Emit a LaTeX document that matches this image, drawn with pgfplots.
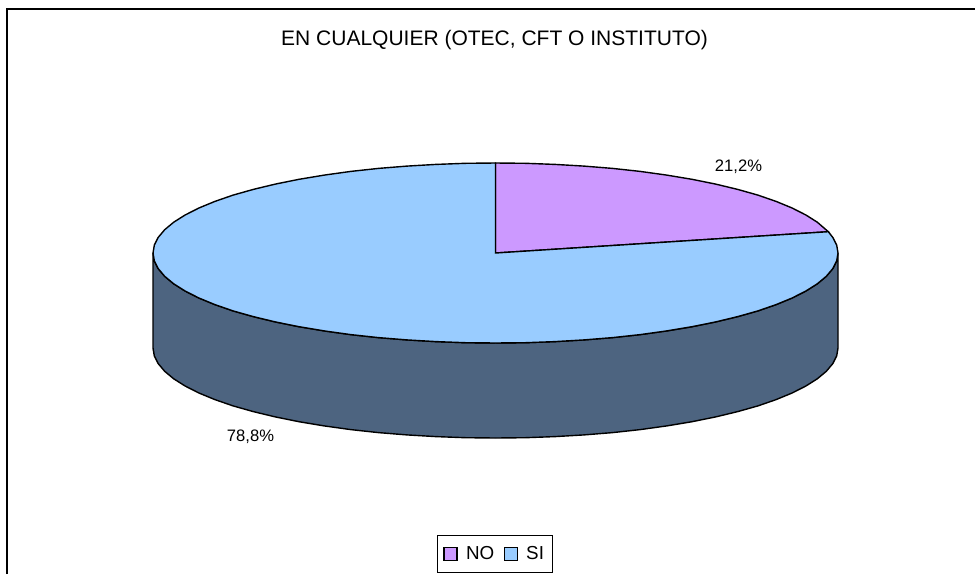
\documentclass[border=0pt]{standalone}
\usepackage{pgfplots}
\pgfplotsset{compat=1.18}
\usepackage{fontspec}
\setmainfont{Liberation Sans}
\definecolor{pieNo}{HTML}{CC99FF}
\definecolor{pieSi}{HTML}{99CCFF}
\definecolor{pieSide}{HTML}{4D6480}
\begin{document}
\begin{tikzpicture}
\begin{axis}[
    scale only axis,
    width=975pt,
    height=574pt,
    xmin=0, xmax=975,
    ymin=0, ymax=574,
    y dir=reverse,
    hide axis,
    legend style={
        at={(axis cs:494.5,554)}, anchor=center,
        draw=black, line width=0.9pt, inner xsep=3.5pt, inner ysep=10.5pt,
        font=\fontsize{18.8}{21}\selectfont,
        legend columns=2,
        /tikz/every even column/.append style={column sep=2pt},
        nodes={inner xsep=4.5pt, inner ysep=1pt},
    },
    legend image code/.code={
        \path[draw=none, fill=none] (-3.5pt,0pt) -- (17.5pt,0pt);
        \draw[#1] (0pt,-6.5pt) rectangle (13pt,6.5pt);
    },
]
% keep the whole canvas in the bounding box
\path (axis cs:0,0) rectangle (axis cs:975,574);
% chart frame, open on the right and bottom where the image is cut
\addplot[forget plot, black, line width=1.6pt] coordinates {(7,574) (7,9) (975,9)};
% side wall
\addplot[forget plot, fill=pieSide, draw=black, line width=1.4pt] coordinates {
    (153,253) (154.3,260.8) (158.2,268.6) (164.7,276.3) (173.7,283.8) (185.1,291)
    (198.9,298) (214.9,304.6) (233.1,310.9) (253.3,316.6) (275.3,321.9) (299,326.7)
    (324.2,330.9) (350.8,334.6) (378.4,337.6) (406.9,339.9) (436,341.6) (465.6,342.7)
    (495.5,343) (525.4,342.7) (555,341.6) (584.1,339.9) (612.6,337.6) (640.2,334.6)
    (666.8,330.9) (692,326.7) (715.7,321.9) (737.7,316.6) (757.9,310.9) (776.1,304.6)
    (792.1,298) (805.9,291) (817.3,283.8) (826.3,276.3) (832.8,268.6) (836.7,260.8)
    (838,253) (838,348)
    (836.7,355.8) (832.8,363.6) (826.3,371.3) (817.3,378.8) (805.9,386) (792.1,393)
    (776.1,399.6) (757.9,405.9) (737.7,411.6) (715.7,416.9) (692,421.7) (666.8,425.9)
    (640.2,429.6) (612.6,432.6) (584.1,434.9) (555,436.6) (525.4,437.7) (495.5,438)
    (465.6,437.7) (436,436.6) (406.9,434.9) (378.4,432.6) (350.8,429.6) (324.2,425.9)
    (299,421.7) (275.3,416.9) (253.3,411.6) (233.1,405.9) (214.9,399.6) (198.9,393)
    (185.1,386) (173.7,378.8) (164.7,371.3) (158.2,363.6) (154.3,355.8) (153,348)
} --cycle;
% NO 21.2
\addplot[fill=pieNo, draw=black, line width=1.4pt] coordinates {
    (495.5,253) (495.5,163) (525.4,163.3) (555,164.4) (584.1,166.1) (612.6,168.4)
    (640.2,171.4) (666.8,175.1) (692,179.3) (715.7,184.1) (737.7,189.4) (757.9,195.1)
    (776.1,201.4) (792.1,208) (805.9,215) (817.3,222.2) (828.3,231.7)
} --cycle;
% SI 78.8
\addplot[fill=pieSi, draw=black, line width=1.4pt] coordinates {
    (495.5,253) (828.3,231.7) (832.8,237.4) (836.7,245.2) (838,253)
    (836.7,260.8) (832.8,268.6) (826.3,276.3) (817.3,283.8) (805.9,291) (792.1,298)
    (776.1,304.6) (757.9,310.9) (737.7,316.6) (715.7,321.9) (692,326.7) (666.8,330.9)
    (640.2,334.6) (612.6,337.6) (584.1,339.9) (555,341.6) (525.4,342.7) (495.5,343)
    (465.6,342.7) (436,341.6) (406.9,339.9) (378.4,337.6) (350.8,334.6) (324.2,330.9)
    (299,326.7) (275.3,321.9) (253.3,316.6) (233.1,310.9) (214.9,304.6) (198.9,298)
    (185.1,291) (173.7,283.8) (164.7,276.3) (158.2,268.6) (154.3,260.8) (153,253)
    (154.3,245.2) (158.2,237.4) (164.7,229.7) (173.7,222.2) (185.1,215) (198.9,208)
    (214.9,201.4) (233.1,195.1) (253.3,189.4) (275.3,184.1) (299,179.3) (324.2,175.1)
    (350.8,171.4) (378.4,168.4) (406.9,166.1) (436,164.4) (465.6,163.3) (495.5,163)
} --cycle;
\legend{NO,SI}
\node[font=\fontsize{21}{24}\selectfont] at (axis cs:494.5,40) {EN CUALQUIER (OTEC, CFT O INSTITUTO)};
\node[font=\fontsize{16.6}{20}\selectfont] at (axis cs:738.5,167) {21,2\%};
\node[font=\fontsize{16.6}{20}\selectfont] at (axis cs:250.5,437) {78,8\%};
\end{axis}
\end{tikzpicture}
\end{document}
